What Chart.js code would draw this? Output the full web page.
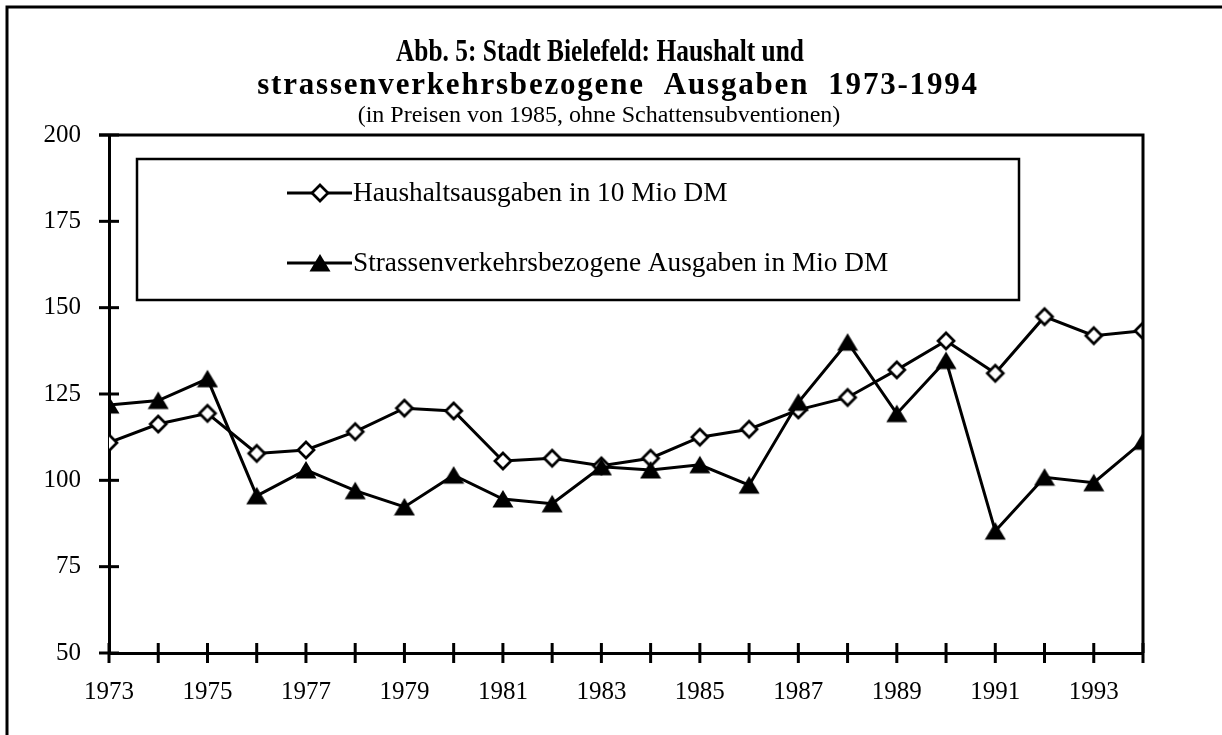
<!DOCTYPE html>
<html><head><meta charset="utf-8">
<script src="https://cdn.jsdelivr.net/npm/chart.js@4.4.1/dist/chart.umd.min.js"></script>
<style>html,body{margin:0;padding:0;background:#fff}#wrap{width:1222px;height:735px;position:relative}</style>
</head><body><div id="wrap"><canvas id="c" width="1222" height="735"></canvas></div>
<script>
const years = [1973,1974,1975,1976,1977,1978,1979,1980,1981,1982,1983,1984,1985,1986,1987,1988,1989,1990,1991,1992,1993,1994];
const haushalt = [110.9,116.3,119.4,107.8,108.8,114.1,120.9,120.1,105.6,106.4,104.2,106.4,112.5,114.8,120.4,124.0,132.0,140.4,131.0,147.4,141.9,143.3];
const strasse = [121.8,123.1,129.4,95.5,103.0,97.0,92.3,101.5,94.6,93.2,103.9,103.0,104.5,98.6,122.6,140.0,119.3,134.7,85.3,100.9,99.3,111.3];
const seriesLabels = ['Haushaltsausgaben in 10 Mio DM','Strassenverkehrsbezogene Ausgaben in Mio DM'];
const titleLines = ['Abb. 5: Stadt Bielefeld: Haushalt und','strassenverkehrsbezogene  Ausgaben  1973-1994'];
const subtitleText = '(in Preisen von 1985, ohne Schattensubventionen)';
const yTickValues = [50,75,100,125,150,175,200];
const xLabelYears = [1973,1975,1977,1979,1981,1983,1985,1987,1989,1991,1993];

const FONT = "'Liberation Serif','Times New Roman',serif";

function makeDiamond(){
  const c=document.createElement('canvas'); c.width=24; c.height=24;
  const g=c.getContext('2d');
  g.beginPath(); g.moveTo(12,4); g.lineTo(20,12); g.lineTo(12,20); g.lineTo(4,12); g.closePath();
  g.fillStyle='#fff'; g.fill(); g.lineWidth=2.7; g.lineJoin='miter'; g.strokeStyle='#000'; g.stroke();
  return c;
}
function makeTriangle(){
  const c=document.createElement('canvas'); c.width=22; c.height=20;
  const g=c.getContext('2d');
  g.beginPath(); g.moveTo(0.5,18.5); g.lineTo(21.5,18.5); g.lineTo(11,1); g.closePath();
  g.fillStyle='#000'; g.fill();
  return c;
}
const diamond = makeDiamond();
const triangle = makeTriangle();

const titlePlugin = {
  id: 'titlePlugin',
  afterDraw(chart){
    const ctx = chart.ctx;
    ctx.save();
    ctx.fillStyle = '#000';
    ctx.textAlign = 'center';
    ctx.textBaseline = 'middle';
    ctx.font = 'bold 31px ' + FONT;
    const w1 = ctx.measureText(titleLines[0]).width;
    const sx = Math.min(1, 408 / w1);
    ctx.save();
    ctx.translate(600, 53);
    ctx.scale(sx, 1);
    ctx.fillText(titleLines[0], 0, 0);
    ctx.restore();
    if ('letterSpacing' in ctx) ctx.letterSpacing = '1.8px';
    ctx.fillText(titleLines[1], 618, 86);
    if ('letterSpacing' in ctx) ctx.letterSpacing = '0px';
    ctx.font = '24px ' + FONT;
    ctx.fillText(subtitleText, 599, 116);
    ctx.restore();
  }
};

const framePlugin = {
  id: 'framePlugin',
  afterDraw(chart){
    const ctx = chart.ctx, a = chart.chartArea;
    const xs = chart.scales.x, ys = chart.scales.y;
    ctx.save();
    ctx.strokeStyle = '#000';
    ctx.lineWidth = 3;
    ctx.beginPath(); ctx.moveTo(7,735); ctx.lineTo(7,7); ctx.lineTo(1222,7); ctx.stroke();
    ctx.beginPath(); ctx.moveTo(a.left-10, a.top); ctx.lineTo(a.right, a.top); ctx.lineTo(a.right, a.bottom); ctx.stroke();
    yTickValues.forEach(v => {
      const y = ys.getPixelForValue(v);
      ctx.beginPath(); ctx.moveTo(a.left-10, y); ctx.lineTo(a.left+10, y); ctx.stroke();
    });
    years.forEach(v => {
      const x = xs.getPixelForValue(v);
      ctx.beginPath(); ctx.moveTo(x, a.bottom-10); ctx.lineTo(x, a.bottom+10); ctx.stroke();
    });
    const bx=137, by=159, bw=1019-137, bh=300-159;
    ctx.fillStyle='#fff';
    ctx.fillRect(bx,by,bw,bh);
    ctx.lineWidth=2.5;
    ctx.strokeRect(bx,by,bw,bh);
    const rowsY=[193,263];
    const markers=[diamond, triangle];
    chart.data.datasets.forEach((ds,i)=>{
      const ry = rowsY[i];
      ctx.lineWidth=3;
      ctx.beginPath(); ctx.moveTo(287,ry); ctx.lineTo(352,ry); ctx.stroke();
      const m = markers[i];
      ctx.drawImage(m, 320-m.width/2, ry-m.height/2);
      ctx.fillStyle='#000';
      ctx.font = '27.3px ' + FONT;
      ctx.textBaseline='middle'; ctx.textAlign='left';
      ctx.fillText(ds.label, 353, ry+1);
    });
    ctx.restore();
  }
};

const chart = new Chart(document.getElementById('c'), {
  type: 'line',
  data: {
    datasets: [
      { label: seriesLabels[0], data: years.map((y,i)=>({x:y,y:haushalt[i]})), borderColor:'#000', borderWidth:3,
        pointStyle: diamond, pointRadius: 9, tension:0, order:1 },
      { label: seriesLabels[1], data: years.map((y,i)=>({x:y,y:strasse[i]})), borderColor:'#000', borderWidth:3,
        pointStyle: triangle, pointRadius: 9, tension:0, order:0 }
    ]
  },
  options: {
    responsive:false, animation:false, devicePixelRatio:1,
    layout:{ padding:{ left:0, right:1222-1143, top:135, bottom:0 } },
    plugins:{
      legend:{display:false}, tooltip:{enabled:false},
      title:{display:false}, subtitle:{display:false}
    },
    scales:{
      x:{ type:'linear', min:1973, max:1994, offset:false,
        afterFit(s){ s.height = 735-653; },
        grid:{display:false, drawTicks:false},
        border:{display:true, width:3, color:'#000'},
        ticks:{ stepSize:1, autoSkip:false, maxRotation:0, padding:24, color:'#000', font:{family:FONT,size:25},
          callback:(v)=> xLabelYears.includes(v) ? String(v) : '' }
      },
      y:{ min:50, max:200,
        afterFit(s){ s.width = 109; },
        afterBuildTicks(s){ s.ticks = yTickValues.map(v=>({value:v})); },
        grid:{display:false, drawTicks:false},
        border:{display:true, width:3, color:'#000'},
        ticks:{ padding:28, color:'#000', font:{family:FONT,size:25} }
      }
    }
  },
  plugins:[framePlugin, titlePlugin]
});
</script></body></html>
